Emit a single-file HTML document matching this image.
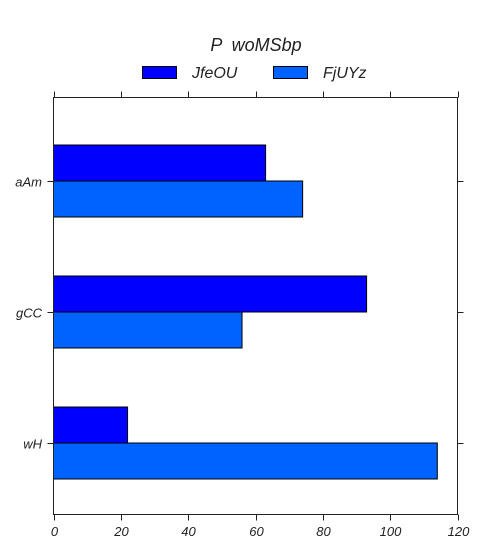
<!DOCTYPE html>
<html><head><meta charset="utf-8"><style>
body{margin:0;background:#fff;}
svg text{font-family:"Liberation Sans",sans-serif;font-style:italic;fill:#222;}
</style></head><body>
<svg id="chart" width="483" height="552" xmlns="http://www.w3.org/2000/svg">
<text x="256" y="51" font-size="18" text-anchor="middle" style="white-space:pre">P  woMSbp</text>
<g>
<rect x="142.5" y="66.5" width="34" height="12" fill="#0000ff" stroke="#000"/>
<text x="192" y="78" font-size="16">JfeOU</text>
<rect x="273.5" y="66.5" width="34" height="12" fill="#0062ff" stroke="#000"/>
<text x="323" y="78" font-size="16">FjUYz</text>
</g>
<g id="plot"></g>
</svg>
<script>
const categories=["aAm","gCC","wH"];
const seriesNames=["JfeOU","FjUYz"];
const jfeouValues=[63,93,22];
const fjuyzValues=[74,56,114];
const xTicks=[0,20,40,60,80,100,120];
const colors=["#0000ff","#0062ff"];
const L=53.5,R=457.5,T=97.5,B=514.5;
const x=v=>L+(v/120)*(R-L);
const yc=i=>181+131*i;
const NS="http://www.w3.org/2000/svg";
const g=document.getElementById('plot');
function mk(t,a){const e=document.createElementNS(NS,t);for(const k in a)e.setAttribute(k,a[k]);g.appendChild(e);return e;}
const series=[jfeouValues,fjuyzValues];
series.forEach((vals,s)=>{vals.forEach((v,i)=>{
 const top=yc(i)-36+36*s;
 const r=mk('rect',{x:x(0),y:top,width:x(v)-x(0),height:36,fill:colors[s],stroke:'#000','stroke-width':1});
 
 
});});
const f=mk('rect',{x:L,y:T,width:R-L,height:B-T,fill:'none',stroke:'#222','stroke-width':1});


xTicks.forEach(t=>{
 const X=Math.round(x(t))+0.5;
 const a=mk('line',{x1:X,x2:X,y1:T-6,y2:T,stroke:'#222'});
 
 
 const b=mk('line',{x1:X,x2:X,y1:B,y2:B+6,stroke:'#222'});
 
 
 const tx=mk('text',{x:X,y:536,'font-size':13,'text-anchor':'middle'});
 tx.textContent=t;
 
 
});
categories.forEach((c,i)=>{
 const Y=Math.round(yc(i))+0.5;
 const a=mk('line',{x1:L-6,x2:L,y1:Y,y2:Y,stroke:'#222'});
 
 
 const b=mk('line',{x1:R,x2:R+6,y1:Y,y2:Y,stroke:'#222'});
 
 
 const tx=mk('text',{x:42,y:Y+5,'font-size':13,'text-anchor':'end'});
 tx.textContent=c;
 
 
});
</script>
</body></html>
